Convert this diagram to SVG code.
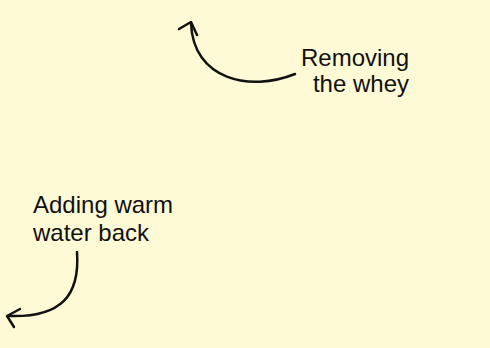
<svg xmlns="http://www.w3.org/2000/svg" width="490" height="348" viewBox="0 0 490 348">
<style>
.lbl{font-family:"Liberation Sans",Arial,Helvetica,sans-serif;font-size:24px;fill:#111}
.ln{fill:none;stroke:#111;stroke-width:2.5;stroke-linecap:round;stroke-linejoin:round}
</style>
<rect width="490" height="348" fill="#FFFAD6"/>
<g id="connectors">
<path class="ln" d="M295,74 C250,92 193,80 191,23"/>
<path class="ln" d="M179,29 L191,22 L197,35"/>
<path class="ln" d="M77,252 C80,295 62,318 8,316"/>
<path class="ln" d="M20,309 L7,316 L14,327"/>
</g>
<g id="label-removing">
<text class="lbl" x="409" y="66" text-anchor="end">Removing</text>
<text class="lbl" x="409" y="92" text-anchor="end">the whey</text>
</g>
<g id="label-adding">
<text class="lbl" x="33" y="213">Adding warm</text>
<text class="lbl" x="33" y="241">water back</text>
</g>
</svg>
